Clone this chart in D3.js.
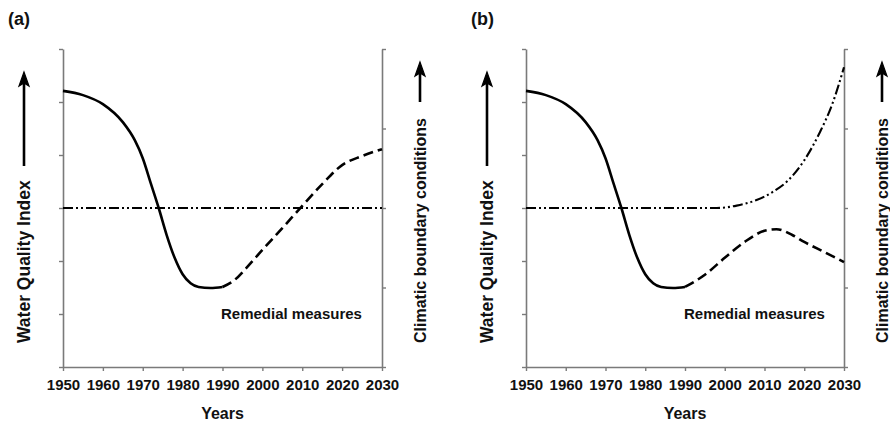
<!DOCTYPE html>
<html>
<head>
<meta charset="utf-8">
<script src="https://cdn.jsdelivr.net/npm/d3@7"></script>
<style>
  body { margin: 0; background: #fff; }
  svg { display: block; }
  text { font-family: "Liberation Sans", Arial, sans-serif; font-weight: bold; fill: #111; }
</style>
</head>
<body>
<svg id="chart" width="890" height="425"></svg>
<script>
// ---- data -------------------------------------------------------------
const yearTicks = [1950, 1960, 1970, 1980, 1990, 2000, 2010, 2020, 2030];
const leftTicks = [0, 1, 2, 3, 4, 5, 6];      // water quality index (unitless)
const rightTicks = [0, 1, 2, 3, 4];           // climatic boundary conditions (unitless)

// observed decline and low point of water quality (same in both scenarios)
const observedYears  = [1950, 1955, 1960, 1965, 1968, 1970, 1972, 1974, 1976, 1978, 1980, 1982, 1984, 1987, 1990];
const observedValues = [5.21, 5.13, 4.96, 4.62, 4.28, 3.94, 3.47, 3.00, 2.49, 2.06, 1.75, 1.58, 1.51, 1.49, 1.51];

// scenario (a): recovery after remedial measures, stable climate
const recoveryYearsA  = [1990, 1993, 1996, 2000, 2005, 2010, 2015, 2020, 2025, 2030];
const recoveryValuesA = [1.51, 1.64, 1.87, 2.21, 2.62, 3.04, 3.45, 3.81, 3.98, 4.11];
const climateYearsA   = [1950, 2030];
const climateValuesA  = [2.0, 2.0];

// scenario (b): recovery offset by changing climate
const recoveryYearsB  = [1990, 1995, 2000, 2005, 2010, 2013, 2017, 2020, 2025, 2030];
const recoveryValuesB = [1.51, 1.74, 2.06, 2.36, 2.57, 2.60, 2.49, 2.36, 2.17, 1.98];
const climateYearsB   = [1950, 1998, 2003, 2008, 2012, 2016, 2020, 2024, 2027, 2030];
const climateValuesB  = [2.0, 2.0, 2.03, 2.10, 2.20, 2.35, 2.60, 2.96, 3.30, 3.77];

const panels = [
  { tag: "(a)", left: 63,  right: 382, obs: [observedYears, observedValues],
    rec: [recoveryYearsA, recoveryValuesA], clim: [climateYearsA, climateValuesA] },
  { tag: "(b)", left: 526, right: 844, obs: [observedYears, observedValues],
    rec: [recoveryYearsB, recoveryValuesB], clim: [climateYearsB, climateValuesB] }
];

// ---- drawing -----------------------------------------------------------
const svg = d3.select("#chart");
const plotTop = 49, plotBottom = 367;
const axisColor = "#7a7a7a";

const zip = (xs, ys) => xs.map((x, i) => [x, ys[i]]);

function arrowUp(g, x, y0, y1) {
  g.append("line").attr("x1", x).attr("x2", x).attr("y1", y0).attr("y2", y1 + 8)
    .attr("stroke", "#000").attr("stroke-width", 2.6);
  g.append("path")
    .attr("d", `M${x},${y1} L${x - 5},${y1 + 14} L${x},${y1 + 11} L${x + 5},${y1 + 14} Z`)
    .attr("fill", "#000").attr("stroke", "#000").attr("stroke-width", 1.2)
    .attr("stroke-linejoin", "miter");
}

panels.forEach(p => {
  const g = svg.append("g");
  const x = d3.scaleLinear().domain([1950, 2030]).range([p.left, p.right]);
  const yL = d3.scaleLinear().domain([0, 6]).range([plotBottom, plotTop]);
  const yR = d3.scaleLinear().domain([0, 4]).range([plotBottom, plotTop]);

  // axes
  const styleAxis = sel => {
    sel.select(".domain").attr("stroke", axisColor).attr("stroke-width", 1.6);
    sel.selectAll(".tick line").attr("stroke", axisColor).attr("stroke-width", 1.4);
  };
  g.append("g").attr("transform", `translate(0,${plotBottom})`)
    .call(d3.axisBottom(x).tickValues(yearTicks).tickFormat(d3.format("d")).tickSizeInner(4).tickSizeOuter(0).tickPadding(8))
    .call(styleAxis)
    .call(s => s.selectAll(".tick text").attr("font-size", 15).attr("font-family", null).attr("fill", "#111"));
  g.append("g").attr("transform", `translate(${p.left},0)`)
    .call(d3.axisLeft(yL).tickValues(leftTicks).tickFormat("").tickSizeInner(4).tickSizeOuter(0))
    .call(styleAxis);
  g.append("g").attr("transform", `translate(${p.right},0)`)
    .call(d3.axisRight(yR).tickValues(rightTicks).tickFormat("").tickSizeInner(4).tickSizeOuter(0))
    .call(styleAxis);

  // curves
  const lineL = d3.line().x(d => x(d[0])).y(d => yL(d[1])).curve(d3.curveMonotoneX);
  const lineR = d3.line().x(d => x(d[0])).y(d => yR(d[1])).curve(d3.curveMonotoneX);

  g.append("path").datum(zip(...p.clim)).attr("d", lineR)
    .attr("fill", "none").attr("stroke", "#000").attr("stroke-width", 2.1)
    .attr("stroke-dasharray", "10,3,2,3,2,3");
  g.append("path").datum(zip(...p.obs)).attr("d", lineL)
    .attr("fill", "none").attr("stroke", "#000").attr("stroke-width", 2.6);
  g.append("path").datum(zip(...p.rec)).attr("d", lineL)
    .attr("fill", "none").attr("stroke", "#000").attr("stroke-width", 2.6)
    .attr("stroke-dasharray", "10,5");

  // labels
  const cx = (p.left + p.right) / 2;
  g.append("text").attr("x", p.left - 55).attr("y", 25).attr("font-size", 18).text(p.tag);
  g.append("text").attr("x", cx).attr("y", 419).attr("text-anchor", "middle").attr("font-size", 16).text("Years");
  g.append("text").attr("x", p.left + 158).attr("y", 319).attr("font-size", 15).text("Remedial measures");

  const lx = p.left - 39;
  g.append("text").attr("transform", `translate(${lx},343) rotate(-90)`)
    .attr("dy", "0.36em").attr("font-size", 17.5).text("Water Quality Index");
  arrowUp(g, lx, 166, 72);

  const rx = p.right + 38;
  g.append("text").attr("transform", `translate(${rx},343) rotate(-90)`)
    .attr("dy", "0.36em").attr("font-size", 16).text("Climatic boundary conditions");
  arrowUp(g, rx, 102, 62);
});
</script>
</body>
</html>
